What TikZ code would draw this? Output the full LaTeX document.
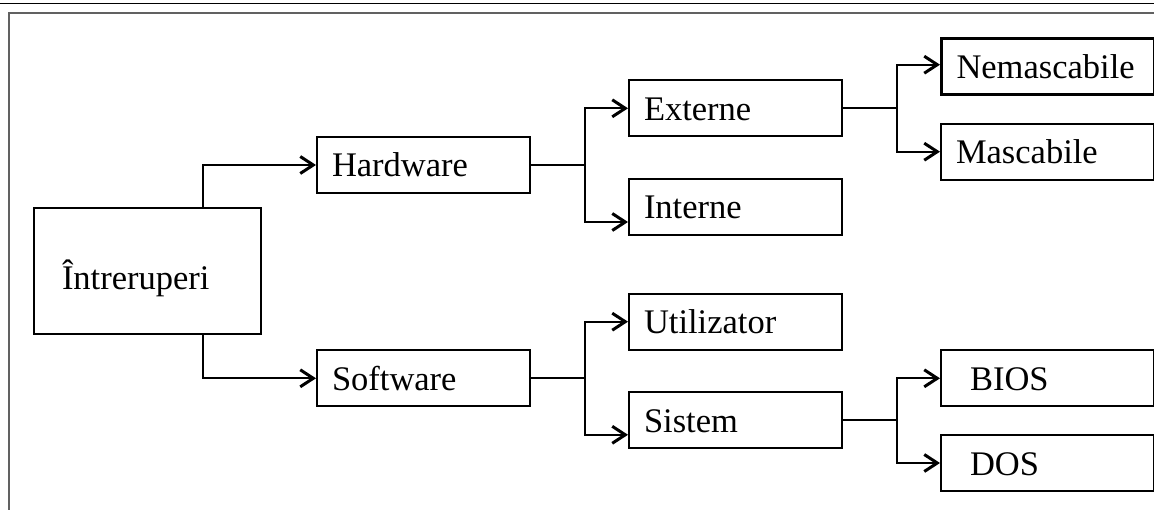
\documentclass[tikz,border=0pt]{standalone}
\usepackage{fontspec}
\setmainfont{Liberation Serif}
\usetikzlibrary{arrows.meta}
\begin{document}
\begin{tikzpicture}[x=1pt,y=-1pt,
  box/.style={draw, line width=2pt, anchor=north west, minimum width=212.5pt,
    minimum height=56pt, inner xsep=15pt, inner ysep=0pt, text width=182.5pt,
    align=left, text height=24pt, text depth=0pt, font=\fontsize{34.5}{40}\selectfont},
  indentbox/.style={box, inner xsep=29pt, text width=154.5pt},
  thickbox/.style={box, line width=3pt},
  conn/.style={line width=2.2pt},
  arr/.style={conn, -{Straight Barb[length=13pt,width=17pt,line width=3pt]}},
  frame/.style={line width=1.8pt, color=black!62}]
\useasboundingbox (0,0) rectangle (1154,510);
% page frame
\draw[line width=1.4pt] (0,3.3) -- (1154,3.3);
\draw[frame] (9,510) -- (9,12.7) -- (1154,12.7);
% nodes
\node[box, minimum width=226.5pt, minimum height=126pt, inner xsep=28pt,
  text width=170.5pt, text height=36pt] (intr) at (33,207.3) {Întreruperi};
\node[box] (hw) at (316,136) {Hardware};
\node[box] (sw) at (316,349.3) {Software};
\node[box] (ext) at (628,79.3) {Externe};
\node[box] (int) at (628,178) {Interne};
\node[box] (util) at (628,292.7) {Utilizator};
\node[box] (sis) at (628,391.3) {Sistem};
\node[thickbox] (nem) at (940,36.7) {Nemascabile};
\node[box] (masc) at (940,122.7) {Mascabile};
\node[indentbox] (bios) at (940,349.3) {BIOS};
\node[indentbox] (dos) at (940,434) {DOS};
% junction columns
\coordinate (j0) at (203,0);
\coordinate (j1) at (585,0);
\coordinate (j2) at (897,0);
% connectors
\draw[arr] (intr.north -| j0) |- (hw.west);
\draw[arr] (intr.south -| j0) |- (sw.west);
\draw[conn] (hw.east) -- (hw.east -| j1);
\draw[arr] (hw.east -| j1) |- (ext.west);
\draw[arr] (hw.east -| j1) |- ([yshift=-15pt]int.west);
\draw[conn] (sw.east) -- (sw.east -| j1);
\draw[arr] (sw.east -| j1) |- (util.west);
\draw[arr] (sw.east -| j1) |- ([yshift=-14.5pt]sis.west);
\draw[conn] (ext.east) -- (ext.east -| j2);
\draw[arr] (ext.east -| j2) |- ([yshift=1.5pt]nem.west);
\draw[arr] (ext.east -| j2) |- (masc.west);
\draw[conn] (sis.east) -- (sis.east -| j2);
\draw[arr] (sis.east -| j2) |- (bios.west);
\draw[arr] (sis.east -| j2) |- (dos.west);
\end{tikzpicture}
\end{document}
